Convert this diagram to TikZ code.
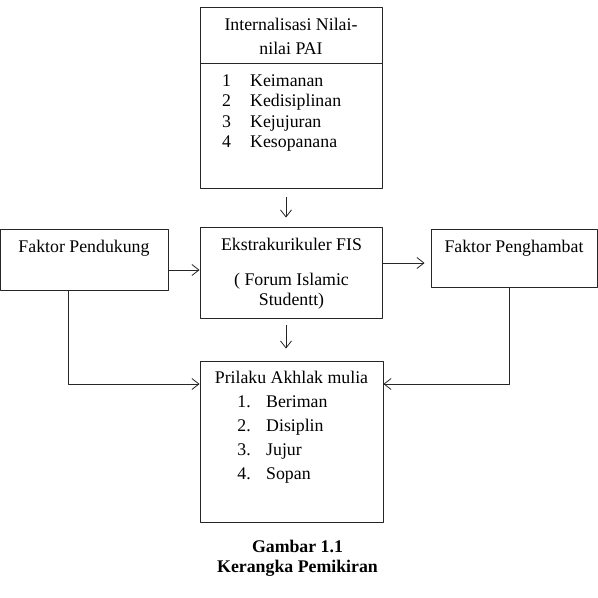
\documentclass[tikz,border=0pt]{standalone}
\usepackage{fontspec}
\setmainfont{Liberation Serif}
\usetikzlibrary{arrows.meta}
\begin{document}
\begin{tikzpicture}[x=1pt, y=-1pt, line join=round, font=\fontsize{17.8}{20}\selectfont,
	>={Straight Barb[length=7pt, width=11pt]},
	kotak/.style={draw=black!85, line width=.9pt, minimum width=#1, inner sep=0pt},
	isi/.style={anchor=base west, inner sep=0pt},
	panah/.style={->, draw=black!85, line width=.8pt}]
	\useasboundingbox (0,0) rectangle (598,598);
	% kotak
	\node[kotak=182pt, minimum height=56pt] (paihead) at (291,35.5) {};
	\node[kotak=182pt, minimum height=125pt] (paibody) at (291,125.5) {};
	\node[kotak=168pt, minimum height=61pt] (pend) at (84,259.5) {};
	\node[kotak=182pt, minimum height=91pt] (ekstra) at (291,272.5) {};
	\node[kotak=166pt, minimum height=58pt] (hambat) at (514,258) {};
	\node[kotak=183pt, minimum height=161pt] (prilaku) at (291.5,441.5) {};
	% teks
	\node[anchor=base, inner sep=0pt] (judul1) at (291,30.5) {Internalisasi Nilai-};
	\node[anchor=base, inner sep=0pt] (judul2) at (291,54) {nilai PAI};
	\foreach \i/\w in {1/Keimanan, 2/Kedisiplinan, 3/Kejujuran, 4/Kesopanana}{
		\node[isi] (no\i) at (222,{66.5+20.2*\i}) {\i};
		\node[isi] (nilai\i) at (250,{66.5+20.2*\i}) {\w};
	}
	\node[anchor=base, inner sep=0pt] (pendtxt) at (84,252) {Faktor Pendukung};
	\node[anchor=base, inner sep=0pt] (hambattxt) at (514,252) {Faktor Penghambat};
	\node[anchor=base, inner sep=0pt] (eks1) at (291.5,250) {Ekstrakurikuler FIS};
	\node[anchor=base, inner sep=0pt] (eks2) at (291.5,285) {( Forum Islamic};
	\node[anchor=base, inner sep=0pt] (eks3) at (291.5,305) {Studentt)};
	\node[anchor=base, inner sep=0pt] (akhlak) at (291.5,383) {Prilaku Akhlak mulia};
	\foreach \i/\w in {1/Beriman, 2/Disiplin, 3/Jujur, 4/Sopan}{
		\node[anchor=base east, inner sep=0pt] (nom\i) at (251,{383+24*\i}) {\i.};
		\node[isi] (sikap\i) at (266,{383+24*\i}) {\w};
	}
	% panah
	\draw[panah, shorten <=9pt, shorten >=9pt] ([xshift=-5pt]paibody.south) -- ([xshift=-5pt]ekstra.north);
	\draw[panah] ([yshift=-10.5pt]pend.east) -- ([yshift=-10.5pt]pend.east -| ekstra.west);
	\draw[panah, shorten >=6pt] ([yshift=9.5pt]ekstra.east) -- ([yshift=9.5pt]ekstra.east -| hambat.west);
	\draw[panah, shorten <=7pt, shorten >=12pt] ([xshift=-5pt]ekstra.south) -- ([xshift=-5pt]ekstra.south |- prilaku.north);
	\draw[panah] ([xshift=-16pt]pend.south) |- ([yshift=57.5pt]prilaku.west);
	\draw[panah] ([xshift=-5pt]hambat.south) |- ([yshift=57.5pt]prilaku.east);
	% keterangan
	\node[anchor=base, inner sep=0pt, font=\fontsize{17.8}{20}\selectfont\bfseries] (gbr) at (297.5,552) {Gambar 1.1};
	\node[anchor=base, inner sep=0pt, font=\fontsize{17.8}{20}\selectfont\bfseries] (ket) at (297.5,572) {Kerangka Pemikiran};
\end{tikzpicture}
\end{document}
